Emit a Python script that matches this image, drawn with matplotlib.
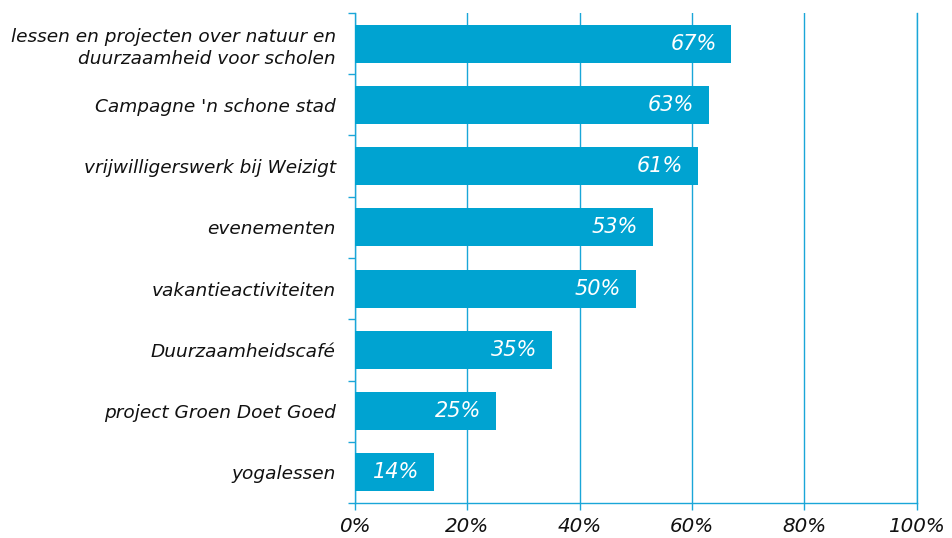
import numpy as np
import matplotlib.pyplot as plt
from matplotlib.ticker import FuncFormatter

categories = ["lessen en projecten over natuur en\nduurzaamheid voor scholen",
              "Campagne 'n schone stad",
              "vrijwilligerswerk bij Weizigt",
              "evenementen",
              "vakantieactiviteiten",
              "Duurzaamheidscafé",
              "project Groen Doet Goed",
              "yogalessen"]
values = [67, 63, 61, 53, 50, 35, 25, 14]

bar_color = "#00A3D1"
line_color = "#1AA6D8"

fig = plt.figure(figsize=(9.52, 5.38), dpi=100)
ax = fig.add_axes([0.373, 0.065, 0.59, 0.911])

y = np.arange(len(categories))
ax.barh(y, values, height=0.62, color=bar_color, zorder=3)
ax.set_ylim(len(categories) - 0.5, -0.5)
ax.set_xlim(0, 100)

for yi, v in zip(y, values):
    ax.text(v - 2.6, yi, f"{v}%", ha="right", va="center", color="white",
            fontsize=15, style="italic", zorder=4)

ax.set_yticks(y)
ax.set_yticklabels(categories, fontsize=13.3, style="italic", linespacing=1.35,
                   color="#111111")
ax.tick_params(axis="y", length=0, pad=14)
ax.set_yticks(np.arange(len(categories) + 1) - 0.5, minor=True)
ax.tick_params(axis="y", which="minor", length=5, color=line_color, width=1)

ax.set_xticks(np.arange(0, 101, 20))
ax.xaxis.set_major_formatter(FuncFormatter(lambda x, p: f"{x:.0f}%"))
ax.tick_params(axis="x", length=5, color=line_color, width=1, labelsize=14.3,
               pad=5, labelcolor="#111111")
for lab in ax.get_xticklabels():
    lab.set_style("italic")

ax.grid(axis="x", color=line_color, linewidth=1, zorder=0)
ax.spines["top"].set_visible(False)
for s in ["left", "bottom", "right"]:
    ax.spines[s].set_color(line_color)
    ax.spines[s].set_linewidth(1)

fig.savefig("out.png", dpi=100)
